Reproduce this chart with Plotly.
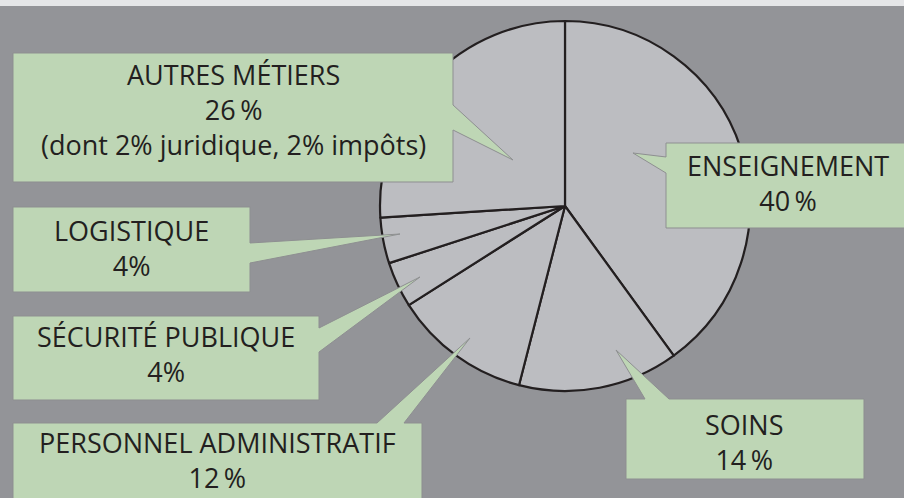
import plotly.graph_objects as go

# ---- data ----
categories = ["ENSEIGNEMENT", "SOINS", "PERSONNEL ADMINISTRATIF",
              "SÉCURITÉ PUBLIQUE", "LOGISTIQUE", "AUTRES MÉTIERS"]
values = [40, 14, 12, 4, 4, 26]
pct_labels = ["40\u2009%", "14\u2009%", "12\u2009%", "4%", "4%", "26\u2009%"]
extra_lines = ["", "", "", "", "", "(dont 2% juridique, 2% impôts)"]

# ---- layout constants (pixels) ----
W, H = 904, 498
BG = "#939498"
STRIP = "#e5e6e8"
SLICE = "#bcbdc1"
INK = "#231f20"
BOX_FILL = "#bed6b5"
BOX_LINE = "#8e8f91"
FONT = "Open Sans"
FS = 27

cx, cy, r = 565, 206, 185


def px(x):
    return x / W


def py(y):
    return 1 - y / H


def path(points):
    s = "M " + " L ".join(f"{px(x):.5f},{py(y):.5f}" for x, y in points) + " Z"
    return s


# callout polygons (box + pointer) for each category, pixel coords from top-left
callouts = {
    "ENSEIGNEMENT": [(666, 143), (910, 143), (910, 228), (666, 228), (666, 173), (633, 153), (666, 157)],
    "SOINS": [(626, 399), (645, 399), (616, 350), (669, 399), (864, 399), (864, 479), (626, 479)],
    "PERSONNEL ADMINISTRATIF": [(13, 423), (377, 423), (470, 338), (404, 423), (422, 423), (422, 510), (13, 510)],
    "SÉCURITÉ PUBLIQUE": [(13, 316), (319, 316), (319, 328), (420, 277), (319, 352), (319, 400), (13, 400)],
    "LOGISTIQUE": [(13, 207), (250, 207), (250, 243), (400, 234), (250, 263), (250, 292), (13, 292)],
    "AUTRES MÉTIERS": [(13, 53), (453, 53), (453, 105), (513, 160), (453, 130), (453, 182), (13, 182)],
}
# text block centres
text_pos = {
    "ENSEIGNEMENT": (788, 183),
    "SOINS": (744, 442),
    "PERSONNEL ADMINISTRATIF": (217, 460),
    "SÉCURITÉ PUBLIQUE": (166, 354),
    "LOGISTIQUE": (131, 248),
    "AUTRES MÉTIERS": (233, 109),
}

fig = go.Figure()
fig.add_trace(go.Pie(
    labels=categories,
    values=values,
    sort=False,
    direction="clockwise",
    rotation=0,
    textinfo="none",
    hoverinfo="label+percent",
    showlegend=False,
    marker=dict(colors=[SLICE] * len(values), line=dict(color=INK, width=2.2)),
    domain=dict(x=[px(cx - r), px(cx + r)], y=[py(cy + r), py(cy - r)]),
))

shapes = [dict(type="rect", xref="paper", yref="paper", x0=0, x1=1,
               y0=py(6), y1=1, fillcolor=STRIP, line=dict(width=0), layer="below")]
annotations = []
for cat, pct, extra in zip(categories, pct_labels, extra_lines):
    shapes.append(dict(type="path", xref="paper", yref="paper", path=path(callouts[cat]),
                       fillcolor=BOX_FILL, line=dict(color=BOX_LINE, width=1), layer="above"))
    lines = [cat, pct] + ([extra] if extra else [])
    tx, ty = text_pos[cat]
    annotations.append(dict(xref="paper", yref="paper", x=px(tx), y=py(ty),
                            xanchor="center", yanchor="middle", showarrow=False,
                            text="<br>".join(lines), align="center",
                            font=dict(family=FONT, size=FS, color=INK)))

fig.update_layout(
    width=W, height=H,
    margin=dict(l=0, r=0, t=0, b=0),
    paper_bgcolor=BG, plot_bgcolor=BG,
    shapes=shapes, annotations=annotations,
)

fig.write_html("out.html", config={"displayModeBar": False},
               post_script="document.body.style.margin='0';document.body.style.overflow='hidden';")
